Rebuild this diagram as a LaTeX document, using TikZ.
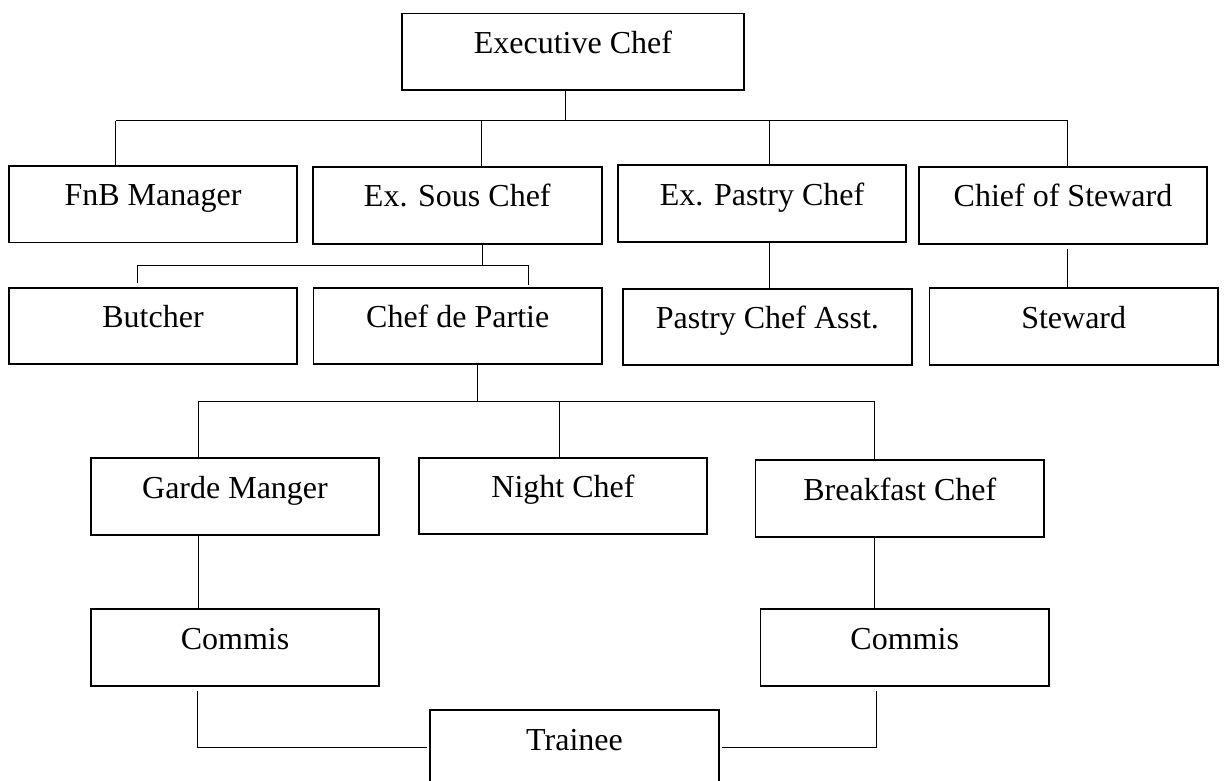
\documentclass[tikz,border=0pt]{standalone}
\usepackage{fontspec}
\setmainfont{Liberation Serif}

\tikzset{
  post/.style={draw, line width=0.9pt, anchor=north, inner xsep=0pt, inner ysep=0pt,
    minimum width=144.3pt, text height=20pt, text depth=18.35pt,
    font=\fontsize{16}{19}\selectfont},
  link/.style={line width=0.5pt}
}

\begin{document}
\begin{tikzpicture}[x=0.5pt, y=-0.5pt]
  \useasboundingbox (0,0) rectangle (1227,781);
  % first row
  \node[post, minimum width=170.75pt] (exec) at (572.9,12.7) {Executive Chef};
  \node[post] (fnb)    at (153,164.8)  {FnB Manager};
  \node[post] (sous)   at (457.3,166)  {Ex. Sous Chef};
  \node[post] (pastry) at (762,164.3)  {Ex. Pastry Chef};
  \node[post] (chief)  at (1063,166)   {Chief of Steward};
  % second row
  \node[post] (butcher)    at (153,286.7)    {Butcher};
  \node[post] (partie)     at (457.7,286.7)  {Chef de Partie};
  \node[post] (pastryasst) at (767.4,287.7)  {Pastry Chef Asst.};
  \node[post] (steward)    at (1073.7,287.3) {Steward};
  % third row
  \node[post] (garde)     at (235,457.3)   {Garde Manger};
  \node[post] (night)     at (563,456.7)   {Night Chef};
  \node[post] (breakfast) at (899.8,459.3) {Breakfast Chef};
  \node[post] (commisL)   at (235,608.3)   {Commis};
  \node[post] (commisR)   at (904.7,608.3) {Commis};
  \node[post] (trainee)   at (574.5,709.3) {Trainee};

  % bus under the executive chef
  \coordinate (t0) at (565.6,121);
  \coordinate (t1) at (115.7,121);
  \coordinate (t2) at (481,121);
  \coordinate (t3) at (769.5,121);
  \coordinate (t4) at (1067.5,121);
  \draw[link] (t0 |- exec.south) -- (t0);
  \draw[link] (t1) -- (t4);
  \foreach \c/\n in {t1/fnb, t2/sous, t3/pastry, t4/chief}
    \draw[link] (\c) -- (\c |- \n.north);

  % under the sous chef
  \coordinate (s0) at (482.6,265);
  \coordinate (s1) at (137,265);
  \coordinate (s2) at (528,265);
  \draw[link] (s0 |- sous.south) -- (s0);
  \draw[link] (s1) -- (s2);
  \draw[link, shorten >=2pt] (s1) -- (s1 |- butcher.north);
  \draw[link, shorten >=1pt] (s2) -- (s2 |- partie.north);

  % pastry and steward lines
  \draw[link] (t3 |- pastry.south) -- (t3 |- pastryasst.north);
  \draw[link, shorten <=2pt] (t4 |- chief.south) -- (t4 |- steward.north);

  % under the chef de partie
  \coordinate (c0) at (477.9,401);
  \coordinate (c1) at (198,401);
  \coordinate (c2) at (559.6,401);
  \coordinate (c3) at (874.5,401);
  \draw[link] (c0 |- partie.south) -- (c0);
  \draw[link] (c1) -- (c3);
  \foreach \c/\n in {c1/garde, c2/night, c3/breakfast}
    \draw[link] (\c) -- (\c |- \n.north);
  \draw[link] (c1 |- garde.south) -- (c1 |- commisL.north);
  \draw[link] (c3 |- breakfast.south) -- (c3 |- commisR.north);

  % commis to trainee
  \coordinate (r1) at (197.5,747);
  \coordinate (r2) at (876,747);
  \draw[link, shorten <=2pt] (r1 |- commisL.south) -- (r1) -- ([xshift=-1pt]r1 -| trainee.west);
  \draw[link, shorten <=2pt] (r2 |- commisR.south) -- (r2) -- ([xshift=1pt]r2 -| trainee.east);
\end{tikzpicture}
\end{document}
